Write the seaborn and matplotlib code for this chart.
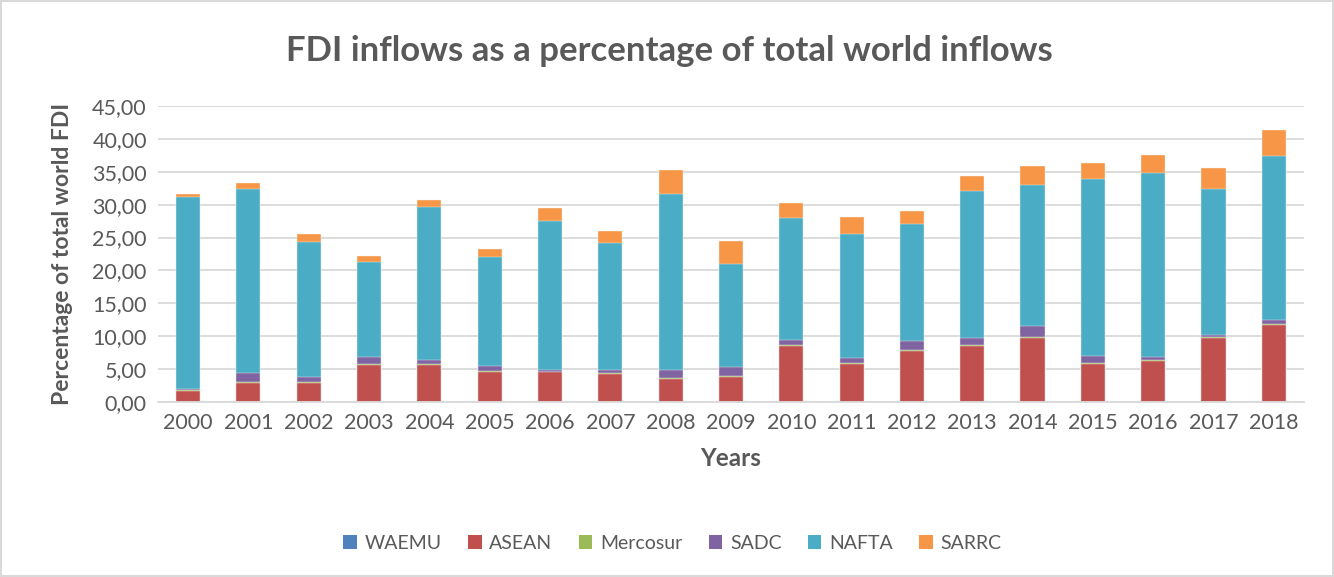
import numpy as np
import pandas as pd
import matplotlib
matplotlib.use("Agg")
import matplotlib.pyplot as plt
from matplotlib.patches import Patch
from matplotlib.ticker import FuncFormatter
import seaborn as sns

# Values (percent of total world FDI inflows)
years = [str(y) for y in range(2000, 2019)]
waemu = [0.03] * 19
asean = [1.67, 2.88, 2.88, 5.61, 5.61, 4.50, 4.50, 4.25, 3.49, 3.74,
         8.44, 5.71, 7.68, 8.44, 9.66, 5.71, 6.22, 9.76, 11.63]
mercosur = [0.05, 0.10, 0.10, 0.15, 0.10, 0.15, 0.10, 0.15, 0.10, 0.25,
            0.15, 0.20, 0.20, 0.15, 0.20, 0.15, 0.15, 0.15, 0.25]
sadc = [0.15, 1.37, 0.86, 1.07, 0.71, 0.81, 0.20, 0.50, 1.20, 1.30,
        0.80, 0.77, 1.35, 1.06, 1.62, 1.07, 0.40, 0.26, 0.61]
nafta = [29.33, 28.05, 20.43, 14.37, 23.18, 16.54, 22.70, 19.30, 26.80, 15.70,
         18.60, 18.83, 17.85, 22.34, 21.42, 26.87, 28.03, 22.24, 24.91]
sarrc = [0.40, 0.90, 1.23, 1.00, 1.10, 1.20, 1.90, 1.80, 3.70, 3.40,
         2.30, 2.60, 1.90, 2.30, 2.90, 2.50, 2.70, 3.10, 3.85]

series = ["WAEMU", "ASEAN", "Mercosur", "SADC", "NAFTA", "SARRC"]
values = [waemu, asean, mercosur, sadc, nafta, sarrc]
colors = ["#4f81bd", "#c0504d", "#9bbb59", "#8064a2", "#4bacc6", "#f79646"]

sns.set_style("white")
plt.rcParams["font.family"] = ["Lato", "DejaVu Sans"]
text_color = "#595959"

fig = plt.figure(figsize=(13.34, 5.77), dpi=100, facecolor="white",
                 edgecolor="#d9d9d9", linewidth=1.5)
ax = fig.add_axes([0.1184, 0.3033, 0.8591, 0.5130])

# stacked bars: draw cumulative totals from the top series down
cum = np.cumsum(np.array(values), axis=0)
for i in range(len(series) - 1, -1, -1):
    df = pd.DataFrame({"Year": years, "Value": cum[i]})
    sns.barplot(data=df, x="Year", y="Value", color=colors[i], width=0.4,
                saturation=1, edgecolor="#f2f2f2", linewidth=0.3, ax=ax)

ax.set_ylim(0, 45)
ax.set_xlim(-0.5, 18.5)
ax.set_yticks(np.arange(0, 46, 5))
ax.yaxis.set_major_formatter(FuncFormatter(lambda v, p: f"{v:.2f}".replace(".", ",")))
ax.grid(axis="y", color="#d9d9d9", linewidth=1.3)
ax.set_axisbelow(True)
for s in ["top", "right", "left"]:
    ax.spines[s].set_visible(False)
ax.spines["bottom"].set_color("#d9d9d9")
ax.spines["bottom"].set_linewidth(1.3)
ax.tick_params(length=0, labelsize=15.5, colors=text_color, pad=8)

ax.set_xlabel("Years", fontsize=17.5, fontweight="bold", color=text_color, labelpad=10)
ax.set_ylabel("Percentage of total world FDI", fontsize=16.5, fontweight="bold",
              color=text_color, labelpad=14)
fig.suptitle("FDI inflows as a percentage of total world inflows", x=0.502, y=0.94,
             fontsize=25, fontweight="bold", color=text_color)

handles = [Patch(facecolor=c, edgecolor="none", label=s) for s, c in zip(series, colors)]
fig.legend(handles=handles, loc="center", bbox_to_anchor=(0.504, 0.058), ncol=6,
           frameon=False, fontsize=14, labelcolor=text_color, handlelength=0.7,
           handleheight=0.7, handletextpad=0.4, columnspacing=1.35)

fig.savefig("out.png", dpi=100, facecolor=fig.get_facecolor(),
            edgecolor=fig.get_edgecolor())
